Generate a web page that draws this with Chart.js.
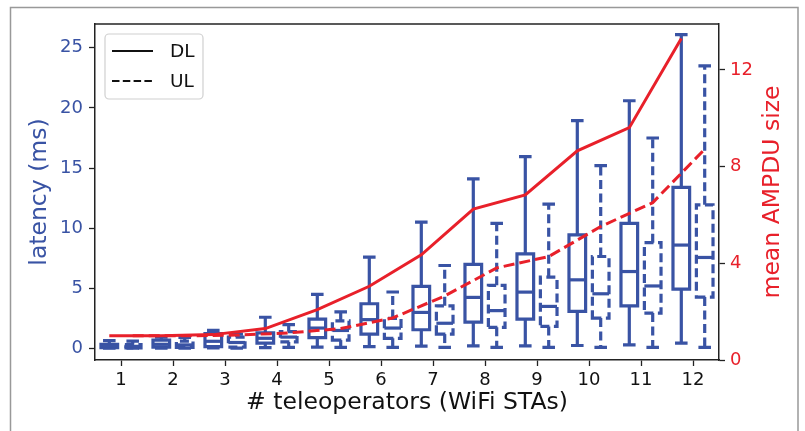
<!DOCTYPE html>
<html><head><meta charset="utf-8">
<script src="https://cdn.jsdelivr.net/npm/chart.js@4.4.0/dist/chart.umd.min.js"></script>
<style>html,body{margin:0;padding:0;background:#fff;}canvas{display:block;}</style>
</head><body>
<canvas id="c" width="805" height="431"></canvas>
<script>
// ---- data ----
const categories = [1,2,3,4,5,6,7,8,9,10,11,12];
// DL latency box stats (ms)
const dlMin = [0.02,0.03,0.05,0.08,0.12,0.15,0.20,0.22,0.22,0.25,0.30,0.45];
const dlQ1  = [0.08,0.12,0.15,0.45,0.90,1.20,1.56,2.20,2.45,3.08,3.55,4.94];
const dlMed = [0.20,0.35,0.60,0.85,1.70,2.40,3.00,4.25,4.69,5.71,6.40,8.60];
const dlQ3  = [0.35,0.70,1.25,1.30,2.45,3.72,5.16,7.00,7.87,9.45,10.4,13.4];
const dlMax = [0.65,0.95,1.50,2.60,4.50,7.60,10.5,14.1,15.95,18.95,20.6,26.1];
// UL latency box stats (ms)
const ulMin = [0.02,0.03,0.04,0.10,0.10,0.10,0.10,0.10,0.10,0.10,0.10,0.10];
const ulQ1  = [0.06,0.10,0.12,0.55,0.70,0.85,1.20,1.76,1.84,2.53,2.95,4.28];
const ulMed = [0.18,0.30,0.50,0.95,1.50,1.70,2.10,3.15,3.50,4.55,5.20,7.57];
const ulQ3  = [0.33,0.62,0.95,1.40,2.30,2.50,3.55,5.25,5.93,7.65,8.80,11.95];
const ulMax = [0.62,0.92,1.20,1.98,3.05,4.70,6.90,10.4,12.0,15.2,17.5,23.5];
// mean AMPDU size
const ampduDL = [1.0,1.0,1.05,1.3,2.08,3.05,4.35,6.24,6.83,8.65,9.61,13.3];
const ampduUL = [1.0,1.0,1.03,1.12,1.3,1.74,2.65,3.81,4.28,5.52,6.51,8.72];
// tick labels
const latencyTicks = [0,5,10,15,20,25];
const ampduTicks = [0,4,8,12];

// ---- style ----
const BLUE = '#3953a4', RED = '#e8202a', FONT = 'DejaVu Sans';
const TITLE_SIZE = 23.5;
const DL_OFF = -0.225, UL_OFF = 0.225, BOX_W = 0.32, CAP_W = 0.18;

const framePlugin = {
  id: 'frame',
  beforeDraw(chart) {
    const ctx = chart.ctx;
    ctx.save();
    ctx.fillStyle = '#fff';
    ctx.fillRect(0, 0, chart.width, chart.height);
    ctx.strokeStyle = '#999';
    ctx.lineWidth = 1.5;
    ctx.strokeRect(10.5, 7.5, 787.5, 460);
    ctx.restore();
  },
  afterDraw(chart) {
    const {ctx, chartArea: a} = chart;
    ctx.save();
    ctx.strokeStyle = '#222';
    ctx.lineWidth = 1.5;
    ctx.beginPath();
    ctx.moveTo(a.left, a.top); ctx.lineTo(a.right, a.top);
    ctx.stroke();
    // right axis title (reads bottom-to-top)
    ctx.translate(773, (a.top + a.bottom) / 2);
    ctx.rotate(-Math.PI / 2);
    ctx.fillStyle = RED;
    ctx.font = TITLE_SIZE + 'px "' + FONT + '"';
    ctx.textAlign = 'center';
    ctx.textBaseline = 'middle';
    ctx.fillText('mean AMPDU size', 0, 0);
    ctx.restore();
  }
};

const boxPlugin = {
  id: 'boxes',
  beforeDatasetsDraw(chart) {
    const {ctx, scales: {x, y}} = chart;
    const drawSet = (mins, q1s, meds, q3s, maxs, off, dash) => {
      categories.forEach((c, i) => {
        const cx = x.getPixelForValue(c + off);
        const hw = x.getPixelForValue(c + off + BOX_W / 2) - cx;
        const cw = x.getPixelForValue(c + off + CAP_W / 2) - cx;
        const pMin = y.getPixelForValue(mins[i]);
        const pQ1 = y.getPixelForValue(q1s[i]);
        const pMed = y.getPixelForValue(meds[i]);
        const pQ3 = y.getPixelForValue(q3s[i]);
        const pMax = y.getPixelForValue(maxs[i]);
        ctx.save();
        ctx.strokeStyle = BLUE;
        ctx.lineWidth = 3.2;
        ctx.lineJoin = 'miter';
        ctx.lineCap = 'butt';
        ctx.setLineDash(dash);
        ctx.beginPath();
        ctx.moveTo(cx - hw, pQ1); ctx.lineTo(cx + hw, pQ1);
        ctx.lineTo(cx + hw, pQ3); ctx.lineTo(cx - hw, pQ3);
        ctx.closePath();
        ctx.stroke();
        ctx.beginPath(); ctx.moveTo(cx, pQ1); ctx.lineTo(cx, pMin); ctx.stroke();
        ctx.beginPath(); ctx.moveTo(cx, pQ3); ctx.lineTo(cx, pMax); ctx.stroke();
        ctx.setLineDash([]);
        ctx.lineCap = 'square';
        ctx.beginPath();
        ctx.moveTo(cx - cw, pMin); ctx.lineTo(cx + cw, pMin);
        ctx.moveTo(cx - cw, pMax); ctx.lineTo(cx + cw, pMax);
        ctx.stroke();
        ctx.lineCap = 'butt';
        ctx.beginPath();
        ctx.moveTo(cx - hw, pMed); ctx.lineTo(cx + hw, pMed);
        ctx.stroke();
        ctx.restore();
      });
    };
    drawSet(dlMin, dlQ1, dlMed, dlQ3, dlMax, DL_OFF, []);
    drawSet(ulMin, ulQ1, ulMed, ulQ3, ulMax, UL_OFF, [9, 4.5]);
  }
};

const legendPlugin = {
  id: 'boxLegend',
  afterDatasetsDraw(chart) {
    const ctx = chart.ctx;
    const a = chart.chartArea;
    const lx = a.left + 10, ly = a.top + 10, lw = 98, lh = 65, r = 4;
    ctx.save();
    ctx.beginPath();
    ctx.moveTo(lx + r, ly);
    ctx.arcTo(lx + lw, ly, lx + lw, ly + lh, r);
    ctx.arcTo(lx + lw, ly + lh, lx, ly + lh, r);
    ctx.arcTo(lx, ly + lh, lx, ly, r);
    ctx.arcTo(lx, ly, lx + lw, ly, r);
    ctx.closePath();
    ctx.fillStyle = 'rgba(255,255,255,0.8)';
    ctx.fill();
    ctx.strokeStyle = '#d0d0d0';
    ctx.lineWidth = 1.2;
    ctx.stroke();
    const items = [['DL', []], ['UL', [7.5, 3.3]]];
    items.forEach((it, k) => {
      const yy = ly + 17 + k * 30;
      ctx.strokeStyle = '#111';
      ctx.lineWidth = 2.2;
      ctx.setLineDash(it[1]);
      ctx.beginPath();
      ctx.moveTo(lx + 7, yy); ctx.lineTo(lx + 48, yy);
      ctx.stroke();
      ctx.setLineDash([]);
      ctx.fillStyle = '#111';
      ctx.font = '18.5px "' + FONT + '"';
      ctx.textAlign = 'left';
      ctx.textBaseline = 'middle';
      ctx.fillText(it[0], lx + 65, yy + 1);
    });
    ctx.restore();
  }
};

new Chart(document.getElementById('c'), {
  type: 'line',
  data: {
    datasets: [
      { label: 'DL', data: categories.map((c, i) => ({x: c + DL_OFF, y: ampduDL[i]})),
        yAxisID: 'y2', borderColor: RED, borderWidth: 3, pointRadius: 0, fill: false, tension: 0 },
      { label: 'UL', data: categories.map((c, i) => ({x: c + UL_OFF, y: ampduUL[i]})),
        yAxisID: 'y2', borderColor: RED, borderWidth: 3, borderDash: [11, 5], pointRadius: 0, fill: false, tension: 0 }
    ]
  },
  options: {
    responsive: false, animation: false, devicePixelRatio: 1,
    layout: { padding: { top: 24, left: 0, right: 0, bottom: 0 } },
    plugins: { legend: { display: false }, tooltip: { enabled: false } },
    scales: {
      x: {
        type: 'linear', min: 0.5, max: 12.5,
        afterBuildTicks: s => { s.ticks = categories.map(v => ({value: v})); },
        afterFit: s => { s.height = 71; },
        grid: { drawOnChartArea: false, drawTicks: true, tickLength: 6, tickColor: '#222', tickWidth: 1.3 },
        border: { display: true, color: '#222', width: 1.5 },
        ticks: { color: '#111', font: { family: FONT, size: 18 }, padding: 4, autoSkip: false, maxRotation: 0, callback: v => String(v) },
        title: { display: true, text: '# teleoperators (WiFi STAs)', color: '#111', font: { family: FONT, size: TITLE_SIZE }, padding: { top: 0, bottom: 14 } }
      },
      y: {
        position: 'left', min: -0.955, max: 26.98,
        afterBuildTicks: s => { s.ticks = latencyTicks.map(v => ({value: v})); },
        afterFit: s => { s.width = 95; },
        grid: { drawOnChartArea: false, drawTicks: true, tickLength: 6, tickColor: '#222', tickWidth: 1.3 },
        border: { display: true, color: '#222', width: 1.5 },
        ticks: { color: BLUE, font: { family: FONT, size: 18 }, padding: 6, callback: v => String(v) },
        title: { display: true, text: 'latency (ms)', color: BLUE, font: { family: FONT, size: TITLE_SIZE }, padding: { top: 26, bottom: 0 } }
      },
      y2: {
        position: 'right', min: 0, max: 13.9,
        afterBuildTicks: s => { s.ticks = ampduTicks.map(v => ({value: v})); },
        afterFit: s => { s.width = 86; },
        grid: { drawOnChartArea: false, drawTicks: true, tickLength: 6, tickColor: '#222', tickWidth: 1.3 },
        border: { display: true, color: '#222', width: 1.5 },
        ticks: { color: RED, font: { family: FONT, size: 18 }, padding: 5, callback: v => String(v) }
      }
    }
  },
  plugins: [framePlugin, boxPlugin, legendPlugin]
});
</script>
</body></html>
